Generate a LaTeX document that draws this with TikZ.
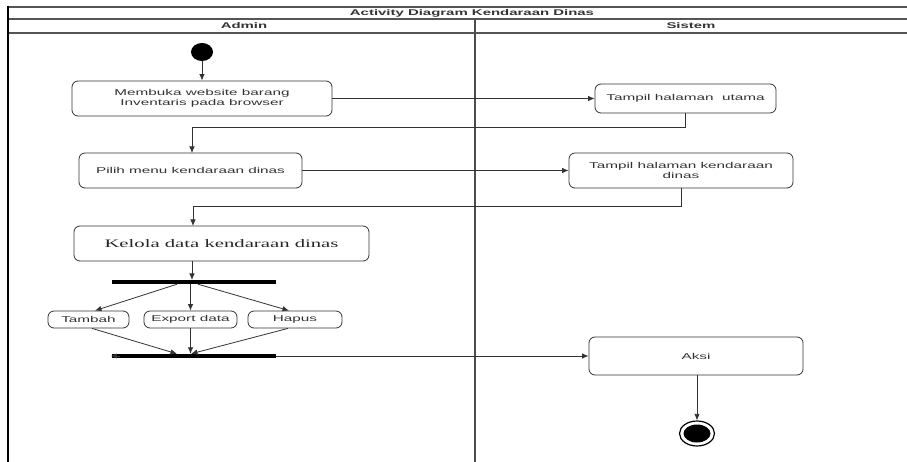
\documentclass[tikz,border=0pt]{standalone}
\usepackage{fontspec}
\setmainfont{Liberation Sans}
\newfontfamily\lab[FakeStretch=1.8]{Liberation Sans}
\newfontfamily\serlab[FakeStretch=1.8]{Liberation Serif}
\usetikzlibrary{arrows.meta,calc,shapes.geometric}
\definecolor{ln}{HTML}{333333}
\definecolor{fr}{HTML}{555555}
\begin{document}
\begin{tikzpicture}[x=1pt,y=-1pt,
  act/.style={draw=ln,line width=0.8pt,rounded corners=6pt,fill=white,align=center,
    font=\lab\fontsize{8.5}{9.5}\selectfont,text=black!80,inner sep=2pt},
  bar/.style={fill=black,inner sep=0pt,minimum width=164pt,minimum height=4pt},
  arr/.style={draw=ln,line width=0.8pt,-{Latex[length=6.5pt,width=5.5pt]}},
  con/.style={draw=ln,line width=0.8pt},
  frame/.style={draw=fr,line width=1.2pt},
  hdr/.style={font=\lab\bfseries\fontsize{8.3}{9}\selectfont,text=black!80}]
\useasboundingbox (0,0) rectangle (907,462);
% frame
\draw[frame] (907,7) -- (8,7);
\draw[frame] (8,19) -- (907,19);
\draw[frame] (8,33) -- (907,33);
\draw[draw=black,line width=1.8pt] (8,6.4) -- (8,462);
\draw[draw=black!70,line width=1.5pt] (475,19) -- (475,462);
\node[hdr] (title) at (472,13) {Activity Diagram Kendaraan Dinas};
\node[hdr] (admin) at (244,26) {Admin};
\node[hdr] (sistem) at (691,26) {Sistem};
% nodes
\node[ellipse,fill=black,inner sep=0pt,minimum width=22pt,minimum height=18pt] (start) at (202,52) {};
\node[act,minimum width=260pt,minimum height=35pt] (b1) at (202,98.5) {Membuka website barang\\Inventaris pada browser};
\node[act,minimum width=181pt,minimum height=29pt] (t1) at (685.5,98.5) {Tampil halaman\ \ utama};
\node[act,minimum width=223pt,minimum height=35pt] (b2) at (190.5,170.5) {Pilih menu kendaraan dinas};
\node[act,minimum width=224pt,minimum height=35pt] (t2) at (681,170.5) {Tampil halaman kendaraan\\dinas};
\node[act,minimum width=295pt,minimum height=35pt,font=\serlab\fontsize{11.5}{13}\selectfont,text=black!85] (b3) at (221.5,243.5) {Kelola data kendaraan dinas};
\node[bar] (fork) at (194,282) {};
\node[act,minimum width=81pt,minimum height=17pt,inner sep=1pt] (tambah) at (88.5,319.5) {Tambah};
\node[act,minimum width=93pt,minimum height=17pt,inner sep=1pt] (export) at (190.5,319.5) {Export data};
\node[act,minimum width=94pt,minimum height=17pt,inner sep=1pt] (hapus) at (295,319.5) {Hapus};
\node[bar] (join) at (194,356) {};
\node[act,minimum width=214pt,minimum height=38pt] (aksi) at (696,356) {Aksi};
\node[ellipse,draw=black,line width=1.2pt,inner sep=0pt,minimum width=35pt,minimum height=25pt] (end) at (697,433.5) {};
\node[ellipse,fill=black,inner sep=0pt,minimum width=27pt,minimum height=18pt] (endin) at (697,433.5) {};
% connectors
\draw[arr] (start) -- (b1);
\draw[arr] (b1.east) -- (t1.west);
\draw[arr] (t1.south) -- ++(0,14.5) -| (192,153);
\draw[arr] (b2.east) -- (t2.west);
\draw[arr] (t2.south) -- ++(0,18) -| (193,226);
\draw[arr] (b3.south -| 192,0) -- (192,280);
\draw[arr] ($(fork.south)+(-17,0)$) -- ($(tambah.north)+(6.5,0)$);
\draw[arr] (fork.south -| export) -- (export.north);
\draw[arr] ($(fork.south)+(4,0)$) -- ($(hapus.north)+(-6,0)$);
\draw[arr] ($(tambah.south)+(3.5,0)$) -- ($(join.north)+(-17,0)$);
\draw[arr] (export.south) -- (join.north -| export);
\draw[arr] ($(hapus.south)+(-7,0)$) -- ($(join.north)+(-3,0)$);
\draw[arr] (join.east) -- (aksi.west);
\draw[con,-{Latex[length=6pt,width=5pt]}] ($(join.west)+(8,0)$) -- ($(join.west)+(-1,0)$);
\draw[arr] (aksi.south -| end) -- (end.north);
\end{tikzpicture}
\end{document}
